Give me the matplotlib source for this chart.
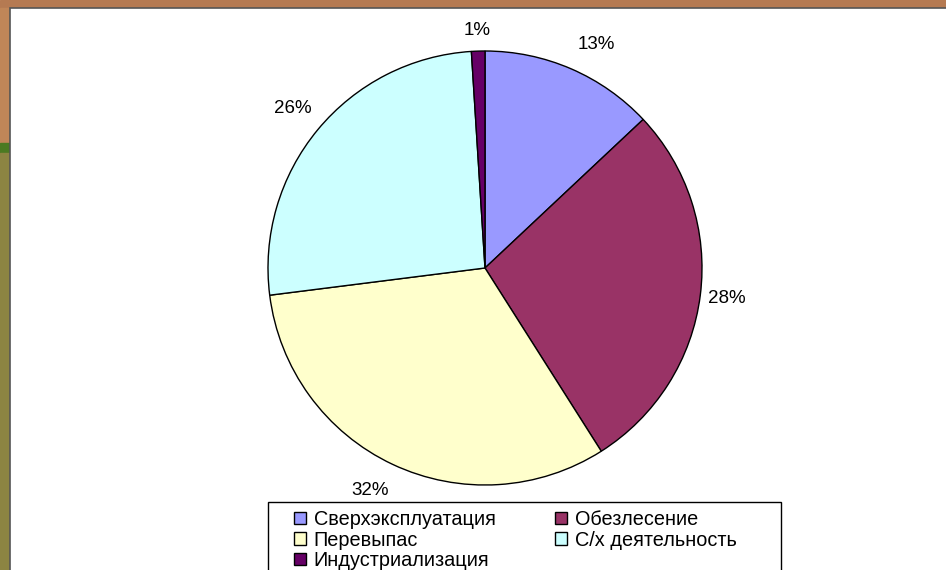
import numpy as np
import matplotlib.pyplot as plt
from matplotlib.patches import Rectangle

plt.rcParams['font.family'] = ['Liberation Sans', 'DejaVu Sans']

# pie data, clockwise from the top
causes = ['Сверхэксплуатация', 'Обезлесение', 'Перевыпас',
          'С/х деятельность', 'Индустриализация']
shares = [13, 28, 32, 26, 1]
colors = ['#9999ff', '#993366', '#ffffcc', '#ccffff', '#660066']

W, H = 946, 570
fig = plt.figure(figsize=(W / 100, H / 100), dpi=100)
fig.patch.set_facecolor('white')


def px_rect(x0, y0, x1, y1, **kw):
    """Rectangle in pixel coords measured from the top-left corner."""
    return Rectangle((x0 / W, 1 - y1 / H), (x1 - x0) / W, (y1 - y0) / H,
                     transform=fig.transFigure, zorder=0, **kw)


# slide background strips around the white chart area
fig.patches.append(px_rect(0, 0, W, 8, color='#b57a52'))
fig.patches.append(px_rect(0, 8, 10, 143, color='#c08658'))
fig.patches.append(px_rect(0, 143, 10, 153, color='#4b7a22'))
fig.patches.append(px_rect(0, 153, 10, H, color='#8c8442'))
fig.patches.append(px_rect(10, 8, W + 5, H + 5, facecolor='white',
                           edgecolor='#555555', lw=1.2))
# legend frame
fig.patches.append(px_rect(268, 502, 781, H + 5, facecolor='white',
                           edgecolor='black', lw=1.0))

# pie centre (485, 268) px, radius 217 px
cx, cy, r = 485, 268, 217
ax = fig.add_axes([(cx - r) / W, (H - cy - r) / H, 2 * r / W, 2 * r / H])
ax.set_zorder(2)
wedges, _, autotexts = ax.pie(
    shares, colors=colors, startangle=90, counterclock=False,
    autopct='%d%%', pctdistance=1.14,
    wedgeprops=dict(edgecolor='black', linewidth=1.0),
    textprops=dict(fontsize=13.5, color='black'))
ax.set_xlim(-1, 1)
ax.set_ylim(-1, 1)
ax.set_aspect('auto')

# Excel keeps the label edge (not its centre) near the rim
label_dist = [1.15, 1.125, 1.155, 1.15, 1.095]
label_turn = [3, 0, 2, 0, 0]  # small angular nudges, degrees clockwise
for w, t, d, s in zip(wedges, autotexts, label_dist, label_turn):
    a = np.deg2rad((w.theta1 + w.theta2) / 2 - s)
    t.set_position((d * np.cos(a), d * np.sin(a)))

# legend is filled column by column, so reorder to read row by row
order = [0, 2, 4, 1, 3]
leg = fig.legend([wedges[i] for i in order], [causes[i] for i in order],
                 ncol=2, loc='upper left',
                 bbox_to_anchor=(294 / W, 1 - 510 / H),
                 frameon=False, fontsize=14.3, handlelength=0.6,
                 handleheight=0.6, handletextpad=0.4, labelspacing=0.08,
                 borderpad=0, borderaxespad=0, columnspacing=3.0)
leg.set_zorder(3)
for h in leg.legend_handles:
    h.set_edgecolor('black')
    h.set_linewidth(1.0)

fig.savefig('out.png', dpi=100)
